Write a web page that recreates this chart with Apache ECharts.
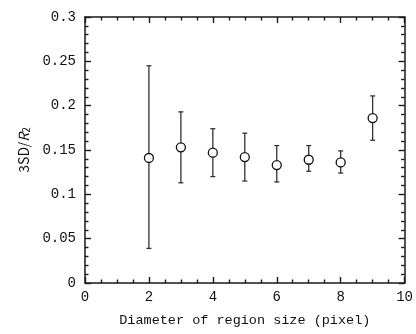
<!DOCTYPE html>
<html><head><meta charset="utf-8">
<script src="https://cdn.jsdelivr.net/npm/echarts@6/dist/echarts.min.js"></script>
<style>html,body{margin:0;padding:0;background:#fff}#c{width:416px;height:334px}</style>
</head><body><div id="c"></div>
<script>
const xValues = [2, 3, 4, 5, 6, 7, 8, 9];
const meanValues = [0.141, 0.153, 0.147, 0.142, 0.133, 0.139, 0.136, 0.186];
const upperValues = [0.245, 0.193, 0.174, 0.169, 0.155, 0.155, 0.149, 0.211];
const lowerValues = [0.039, 0.113, 0.120, 0.115, 0.114, 0.126, 0.124, 0.161];
const xTickLabels = ['0', '2', '4', '6', '8', '10'];
const yTickLabels = ['0', '0.05', '0.1', '0.15', '0.2', '0.25', '0.3'];
const xTitle = 'Diameter of region size (pixel)';

const FONT = '"Liberation Mono","DejaVu Sans Mono",monospace';
const C = '#1a1a1a';
const chart = echarts.init(document.getElementById('c'), null, {renderer: 'canvas'});
const tick = {show: true, inside: true, length: 6, lineStyle: {color: C, width: 1.4}};
const minor = (n) => ({show: true, splitNumber: n, length: 3.5, lineStyle: {color: C, width: 1.4}});
const line = {show: true, onZero: false, lineStyle: {color: C, width: 1.5}};
const xData = xValues.map((x, i) => [x, meanValues[i]]);
const errData = xValues.map((x, i) => [x, lowerValues[i], upperValues[i]]);

chart.setOption({
  animation: false,
  grid: {left: 85, right: 7, top: 17, bottom: 51},
  xAxis: [{
    type: 'value', min: 0, max: 10, interval: 2, position: 'bottom',
    axisLine: line, axisTick: tick, minorTick: minor(4), splitLine: {show: false},
    axisLabel: {margin: 7, color: '#111', fontFamily: FONT, fontSize: 14,
      formatter: v => xTickLabels[Math.round(v / 2)]},
    name: xTitle, nameLocation: 'middle', nameGap: 30,
    nameTextStyle: {color: '#111', fontFamily: FONT, fontSize: 13.5}
  }, {
    type: 'value', min: 0, max: 10, interval: 2, position: 'top',
    axisLine: line, axisTick: tick, minorTick: minor(4), splitLine: {show: false},
    axisLabel: {show: false}
  }],
  yAxis: [{
    type: 'value', min: 0, max: 0.3, interval: 0.05, position: 'left',
    axisLine: line, axisTick: tick, minorTick: minor(5), splitLine: {show: false},
    axisLabel: {margin: 9, color: '#111', fontFamily: FONT, fontSize: 14,
      formatter: v => yTickLabels[Math.round(v / 0.05)]},
    name: '{a|3SD/}{i|R}{s|2}', nameLocation: 'middle', nameGap: 53,
    nameTextStyle: {color: '#111', fontFamily: FONT, fontSize: 14,
      rich: {
        a: {fontFamily: '"Noto Sans CJK JP",sans-serif', fontSize: 14, color: '#111'},
        i: {fontFamily: '"Noto Sans CJK JP",sans-serif', fontStyle: 'italic', fontSize: 14, color: '#111'},
        s: {fontFamily: '"Noto Sans CJK JP",sans-serif', fontSize: 10, color: '#111', padding: [6, 0, 0, 0]}
      }}
  }, {
    type: 'value', min: 0, max: 0.3, interval: 0.05, position: 'right',
    axisLine: line, axisTick: tick, minorTick: minor(5), splitLine: {show: false},
    axisLabel: {show: false}
  }],
  series: [{
    type: 'custom', xAxisIndex: 0, yAxisIndex: 0, data: errData, z: 2,
    renderItem: function (params, api) {
      const x = api.value(0);
      const lo = api.coord([x, api.value(1)]);
      const hi = api.coord([x, api.value(2)]);
      const st = {stroke: '#333', lineWidth: 1.3};
      return {type: 'group', children: [
        {type: 'line', shape: {x1: lo[0], y1: lo[1], x2: hi[0], y2: hi[1]}, style: st},
        {type: 'line', shape: {x1: lo[0] - 2.5, y1: lo[1], x2: lo[0] + 2.5, y2: lo[1]}, style: st},
        {type: 'line', shape: {x1: hi[0] - 2.5, y1: hi[1], x2: hi[0] + 2.5, y2: hi[1]}, style: st}
      ]};
    }
  }, {
    type: 'scatter', xAxisIndex: 0, yAxisIndex: 0, data: xData, z: 3,
    symbol: 'circle', symbolSize: 9,
    itemStyle: {color: '#fff', borderColor: '#111', borderWidth: 1.3, opacity: 1}
  }]
});
</script></body></html>
